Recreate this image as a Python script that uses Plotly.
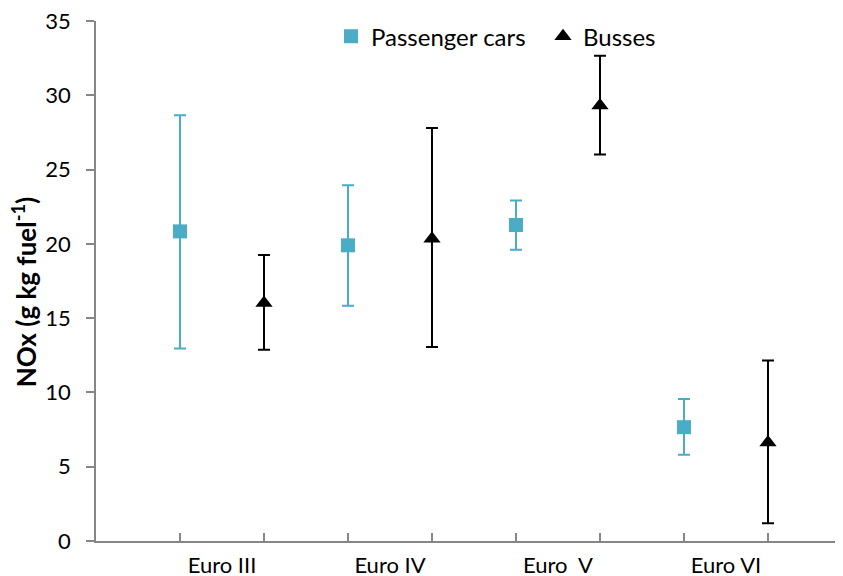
import plotly.graph_objects as go

categories = ["Euro III", "Euro IV", "Euro \u00a0V", "Euro VI"]
category_pos = [1.5, 3.5, 5.5, 7.5]
car_x = [1, 3, 5, 7]
bus_x = [2, 4, 6, 8]

car_mean = [20.84, 19.90, 21.27, 7.66]
car_upper = [28.66, 23.94, 22.91, 9.55]
car_lower = [12.96, 15.84, 19.61, 5.80]

bus_mean = [16.02, 20.35, 29.31, 6.63]
bus_upper = [19.25, 27.79, 32.66, 12.15]
bus_lower = [12.87, 13.05, 26.01, 1.19]

y_ticks = [0, 5, 10, 15, 20, 25, 30, 35]

FONT = "Lato"
AXIS_COLOR = "#868686"
CAR_COLOR = "#4BACC6"

# the page body has an 8px margin, so the figure is sized to fill the rest
W, H = 835, 568
L, T, B = 88, 12.7, 35.3
PW, PH = W - L, H - T - B

fig = go.Figure()
fig.add_trace(go.Scatter(
    x=car_x, y=car_mean, mode="markers", name="Passenger cars",
    marker=dict(symbol="square", size=14, color=CAR_COLOR),
    error_y=dict(type="data", symmetric=False,
                 array=[u - m for u, m in zip(car_upper, car_mean)],
                 arrayminus=[m - l for m, l in zip(car_mean, car_lower)],
                 color=CAR_COLOR, thickness=2, width=6),
))
fig.add_trace(go.Scatter(
    x=bus_x, y=bus_mean, mode="markers", name="Busses",
    marker=dict(symbol="triangle-up", size=15, color="black"),
    error_y=dict(type="data", symmetric=False,
                 array=[u - m for u, m in zip(bus_upper, bus_mean)],
                 arrayminus=[m - l for m, l in zip(bus_mean, bus_lower)],
                 color="black", thickness=2, width=6),
))
# invisible trace to activate the category label axis
fig.add_trace(go.Scatter(x=category_pos, y=[None] * 4, xaxis="x2", showlegend=False,
                         hoverinfo="skip", mode="markers"))

xr = [0, 8.893]
fig.update_layout(
    width=W, height=H,
    margin=dict(l=L, r=0, t=T, b=B, pad=0, autoexpand=False),
    paper_bgcolor="white", plot_bgcolor="white",
    font=dict(family=FONT, size=22, color="black"),
    showlegend=True,
    legend=dict(orientation="h", x=(331 - 96) / PW, xanchor="left",
                y=1.013, yanchor="top",
                entrywidth=167, entrywidthmode="pixels",
                font=dict(family=FONT, size=24, color="black"),
                bgcolor="rgba(0,0,0,0)", itemclick=False),
    xaxis=dict(range=xr, tickvals=car_x + bus_x, showticklabels=False,
               ticks="inside", ticklen=8, tickwidth=1.5, tickcolor=AXIS_COLOR,
               showline=True, linecolor=AXIS_COLOR, linewidth=1.5,
               showgrid=False, zeroline=False, automargin=False),
    xaxis2=dict(range=xr, overlaying="x", anchor="y", side="bottom",
                tickvals=category_pos, ticktext=categories, ticks="",
                showline=False, showgrid=False, zeroline=False, automargin=False,
                tickfont=dict(family=FONT, size=22, color="black"),
                ticklabelstandoff=9, ticklabeloverflow="allow"),
    yaxis=dict(range=[0, 35], tickvals=y_ticks, ticks="outside", ticklen=8,
               tickwidth=1.5, tickcolor=AXIS_COLOR,
               showline=True, linecolor=AXIS_COLOR, linewidth=1.5,
               showgrid=False, zeroline=False, automargin=False,
               tickfont=dict(family=FONT, size=22, color="black"),
               ticklabelstandoff=11, ticklabeloverflow="allow"),
    annotations=[dict(text="<b>NOx (g kg fuel<sup>-1</sup>)</b>", textangle=-90,
                      xref="paper", yref="paper", x=(24 - 96) / PW, y=(540.7 - 292) / PH,
                      xanchor="center", yanchor="middle", showarrow=False,
                      font=dict(family=FONT, size=26, color="black"))],
)

fig.write_html("out.html")
